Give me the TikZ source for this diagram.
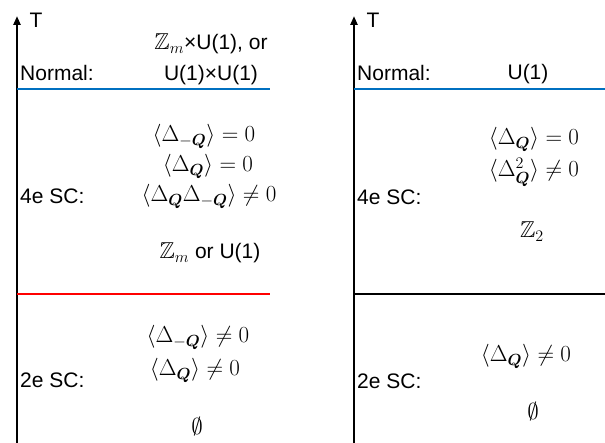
\documentclass[tikz,border=0pt]{standalone}
\usepackage{fix-cm}
\usepackage{amsmath,amssymb,bm}
\usepackage[no-math]{fontspec}
\setmainfont{Liberation Sans}
\usetikzlibrary{arrows.meta}
\definecolor{lineblue}{RGB}{0,112,192}
\definecolor{linered}{RGB}{255,0,0}
\newcommand{\Qb}{\boldsymbol{Q}}
\newcommand{\mth}[1]{{\fontsize{23}{27}\selectfont$#1$}}
\begin{document}
\begin{tikzpicture}[x=1pt,y=-1pt,
  font=\fontsize{21}{25}\selectfont,
  axis/.style={line width=2.5pt,-{Triangle[width=7pt,length=9pt]}},
  bluesep/.style={draw=lineblue,line width=2pt},
  redsep/.style={draw=linered,line width=2pt},
  blacksep/.style={draw=black,line width=1.5pt},
  txt/.style={inner sep=0pt,anchor=base},
  lbl/.style={inner sep=0pt,anchor=base west}]
\useasboundingbox (0,0) rectangle (605,443);
% left axis
\coordinate (lb) at (17,443);
\coordinate (lt) at (17,16);
\draw[axis] (lb) -- (lt);
\node[inner sep=0pt] (lT) at (36,20) {T};
\coordinate (lbl1) at (17,89); \coordinate (lbl2) at (270,89);
\draw[bluesep] (lbl1) -- (lbl2);
\coordinate (lrl1) at (17,294); \coordinate (lrl2) at (270,294);
\draw[redsep] (lrl1) -- (lrl2);
\node[lbl] (lnorm) at (20,81) {Normal:};
\node[txt] (lsym1) at (211,50) {\mth{\mathbb{Z}_m}×U(1), or};
\node[txt] (lsym2) at (211,81) {U(1)×U(1)};
\node[inner sep=0pt,anchor=west] (l4e) at (20,196) {4e SC:};
\node[txt] (la1) at (204,142) {\mth{\langle \Delta_{-\Qb}\rangle = 0}};
\node[txt] (la2) at (208,172) {\mth{\langle \Delta_{\Qb}\rangle = 0}};
\node[txt] (la3) at (209,202) {\mth{\langle \Delta_{\Qb}\Delta_{-\Qb}\rangle \neq 0}};
\node[txt] (la4) at (210,259) {\mth{\mathbb{Z}_m} or U(1)};
\node[inner sep=0pt,anchor=west] (l2e) at (20,380) {2e SC:};
\node[txt] (lb1) at (198,343) {\mth{\langle \Delta_{-\Qb}\rangle \neq 0}};
\node[txt] (lb2) at (195,376) {\mth{\langle \Delta_{\Qb}\rangle \neq 0}};
\node[inner sep=0pt] (lb3) at (197,427) {\mth{\emptyset}};
% right axis
\coordinate (rb) at (354,443);
\coordinate (rt) at (354,16);
\draw[axis] (rb) -- (rt);
\node[inner sep=0pt] (rT) at (373,20) {T};
\coordinate (rbl1) at (354,89); \coordinate (rbl2) at (605,89);
\draw[bluesep] (rbl1) -- (rbl2);
\coordinate (rkl1) at (354,294); \coordinate (rkl2) at (605,294);
\draw[blacksep] (rkl1) -- (rkl2);
\node[lbl] (rnorm) at (357,81) {Normal:};
\node[txt] (rsym) at (528,80) {U(1)};
\node[inner sep=0pt,anchor=west] (r4e) at (357,197) {4e SC:};
\node[txt] (ra1) at (534,145) {\mth{\langle \Delta_{\Qb}\rangle = 0}};
\node[txt] (ra2) at (534,177) {\mth{\langle \Delta_{\Qb}^2\rangle \neq 0}};
\node[txt] (ra3) at (532,238) {\mth{\mathbb{Z}_2}};
\node[inner sep=0pt,anchor=west] (r2e) at (357,381) {2e SC:};
\node[txt] (rb1) at (526,362) {\mth{\langle \Delta_{\Qb}\rangle \neq 0}};
\node[inner sep=0pt] (rb2) at (533,412) {\mth{\emptyset}};
\end{tikzpicture}
\end{document}
